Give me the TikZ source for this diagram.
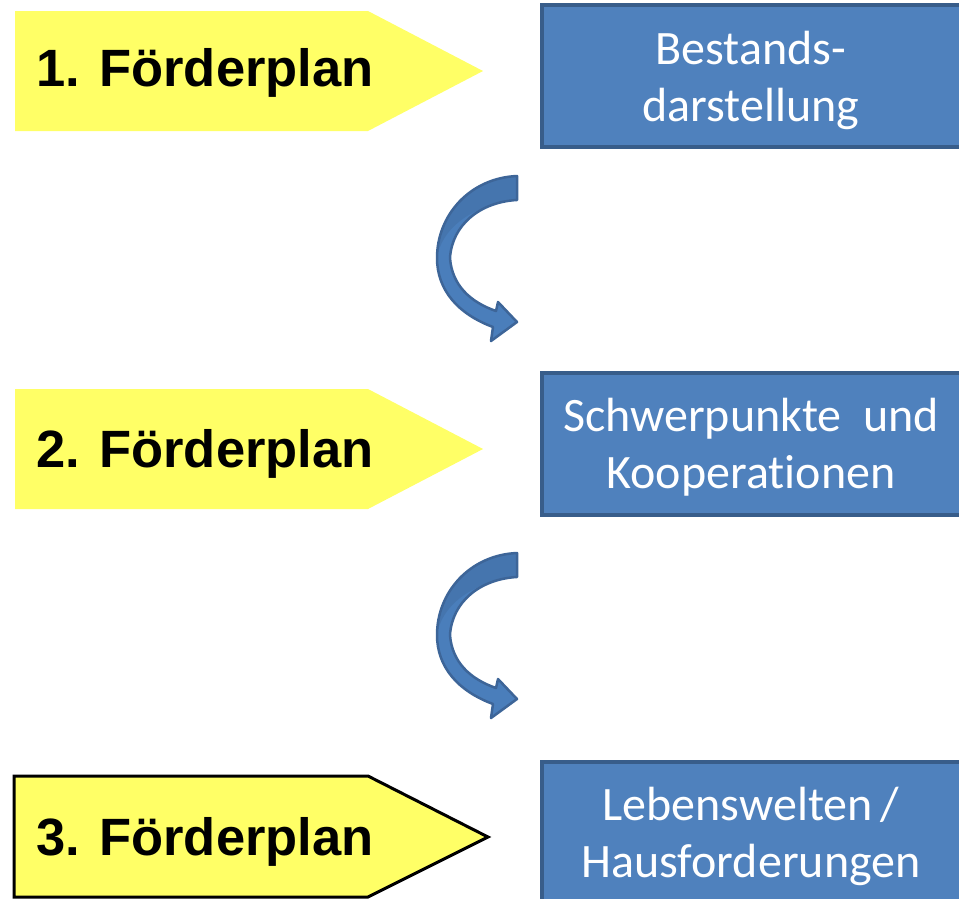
\documentclass[tikz,border=0pt]{standalone}
\usepackage{fontspec}
\setmainfont{Carlito}[Ligatures=NoCommon]
\newfontfamily\signfont{Liberation Sans}
\definecolor{plyellow}{HTML}{FFFF66}
\definecolor{boxblue}{HTML}{4F81BD}
\definecolor{boxedge}{HTML}{385D8A}
\definecolor{arrowfill}{HTML}{4A7EBB}
\definecolor{arrowdark}{HTML}{3D6598}
\tikzset{
  signpost/.style={fill=plyellow},
  signtext/.style={anchor=west, font=\signfont\bfseries\fontsize{52.5}{60}\selectfont, text=black, inner sep=0pt},
  stepbox/.style={draw=boxedge, line width=3.2pt, fill=boxblue, minimum width=420pt, minimum height=142pt, inner sep=0pt},
  boxtext/.style={text=white, align=center, font=\fontsize{48}{57}\selectfont},
  bendarrow/.style={fill=arrowfill, draw=arrowdark, line width=2.5pt, line join=round},
}
\newcommand{\bendarrowpath}[1]{%
  \begin{scope}[shift={(0,#1)}]
    \path[bendarrow] (517,176) .. controls (470,178) and (437,215) .. (437,258)
      .. controls (437,290) and (458,314) .. (493,327)
      -- (491,341) -- (517,322) -- (498,302) -- (496,311)
      .. controls (470,302) and (452,285) .. (450,258)
      .. controls (452,225) and (480,202) .. (517,200) -- cycle;
    \fill[arrowdark, opacity=0.35] (517,176) .. controls (470,178) and (437,215) .. (437,258)
      .. controls (441,230) and (470,205) .. (517,200) -- cycle;
  \end{scope}}
\begin{document}
\begin{tikzpicture}[x=1pt,y=-1pt]
\useasboundingbox (0,0) rectangle (959,898);
% yellow signposts
\path[signpost] (15,11) -- (368,11) -- (483,71) -- (368,131) -- (15,131) -- cycle;
\path[signpost] (15,389) -- (368,389) -- (483,449) -- (368,509) -- (15,509) -- cycle;
\path[signpost, draw=black, line width=3pt, line join=miter] (14,776) -- (368,776) -- (488,837) -- (368,897) -- (14,897) -- cycle;
\node[signtext] (p1) at (36,73) {1. Förderplan};
\node[signtext] (p2) at (36,454) {2. Förderplan};
\node[signtext] (p3) at (36,842) {3. Förderplan};
% blue boxes
\node[stepbox] (b1) at (752,76) {};
\node[stepbox] (b2) at (752,444) {};
\node[stepbox] (b3) at (752,833) {};
\node[boxtext] (t1) at (751,80) {Bestands-\\darstellung};
\node[boxtext] (t2) at (751,447) {Schwerpunkte\ \ und\\Kooperationen};
\node[boxtext] (t3) at (751,836) {Lebenswelten\,/\\Hausforderungen};
% curved arrows
\bendarrowpath{0}
\bendarrowpath{377}
\end{tikzpicture}
\end{document}
